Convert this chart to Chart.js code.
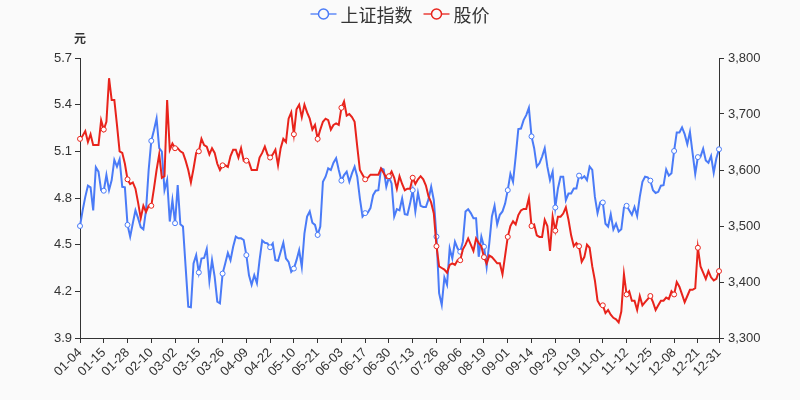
<!DOCTYPE html>
<html>
<head>
<meta charset="utf-8">
<script src="https://cdn.jsdelivr.net/npm/chart.js@4"></script>
<style>
  html, body { margin: 0; padding: 0; background: #fafafa; }
  #wrap { width: 800px; height: 400px; }
</style>
</head>
<body>
<div id="wrap"><canvas id="chart"></canvas></div>
<script>
// 2021 market holidays falling on weekdays (Shanghai exchange)
const holidays = ['01-01', '02-11', '02-12', '02-15', '02-16', '02-17', '04-05',
  '05-03', '05-04', '05-05', '06-14', '09-20', '09-21',
  '10-01', '10-04', '10-05', '10-06', '10-07'];

const shownLabels = ['01-04', '01-15', '01-28', '02-10', '03-02', '03-15', '03-26',
  '04-09', '04-22', '05-10', '05-21', '06-03', '06-17', '06-30', '07-13', '07-26',
  '08-06', '08-19', '09-01', '09-14', '09-29', '10-19', '11-01', '11-12', '11-25',
  '12-08', '12-21', '12-31'];

const leftTicks = [3.9, 4.2, 4.5, 4.8, 5.1, 5.4, 5.7];
const rightTicks = [3300, 3400, 3500, 3600, 3700, 3800];

// 股价 (元)
const priceValues = [
  5.18, 5.20, 5.23, 5.16, 5.21, 5.14, 5.14, 5.14, 5.30, 5.24,
  5.29, 5.57, 5.43, 5.43, 5.27, 5.10, 5.09, 5.02, 4.92, 4.89,
  4.90, 4.86, 4.77, 4.67, 4.75, 4.71, 4.75, 4.75, 4.86, 4.98,
  5.08, 4.93, 4.94, 5.43, 5.11, 5.15, 5.12, 5.12, 5.10, 5.09,
  5.04, 4.98, 4.90, 4.99, 5.09, 5.10, 5.18, 5.14, 5.13, 5.08,
  5.12, 5.09, 5.02, 4.98, 5.01, 5.01, 5.00, 5.07, 5.11, 5.11,
  5.06, 5.12, 5.04, 5.04, 5.03, 4.98, 4.98, 4.98, 5.06, 5.09,
  5.13, 5.08, 5.06, 5.08, 5.11, 5.01, 5.12, 5.18, 5.16, 5.31,
  5.35, 5.21, 5.37, 5.40, 5.32, 5.40, 5.35, 5.31, 5.24, 5.27,
  5.18, 5.24, 5.29, 5.31, 5.30, 5.24, 5.27, 5.28, 5.27, 5.38,
  5.42, 5.33, 5.34, 5.32, 5.29, 5.13, 4.98, 4.95, 4.92, 4.93,
  4.95, 4.95, 4.95, 4.95, 4.99, 4.96, 4.93, 4.94, 4.97, 4.93,
  4.86, 4.94, 4.89, 4.85, 4.86, 4.86, 4.93, 4.89, 4.92, 4.94,
  4.92, 4.88, 4.81, 4.77, 4.70, 4.49, 4.36, 4.35, 4.34, 4.32,
  4.37, 4.38, 4.37, 4.40, 4.40, 4.47, 4.50, 4.54, 4.50, 4.46,
  4.54, 4.51, 4.49, 4.42, 4.38, 4.43, 4.42, 4.40, 4.38, 4.38,
  4.31, 4.43, 4.55, 4.62, 4.65, 4.63, 4.69, 4.72, 4.73, 4.73,
  4.80, 4.62, 4.63, 4.56, 4.55, 4.55, 4.66, 4.62, 4.46, 4.68,
  4.59, 4.68, 4.68, 4.70, 4.74, 4.66, 4.56, 4.49, 4.51, 4.49,
  4.39, 4.42, 4.50, 4.48, 4.36, 4.27, 4.14, 4.11, 4.11, 4.06,
  4.08, 4.05, 4.03, 4.02, 4.00, 4.07, 4.31, 4.18, 4.20, 4.14,
  4.14, 4.08, 4.17, 4.11, 4.13, 4.15, 4.17, 4.13, 4.08, 4.11,
  4.14, 4.14, 4.16, 4.15, 4.20, 4.18, 4.26, 4.23, 4.18, 4.13,
  4.17, 4.21, 4.21, 4.22, 4.48, 4.36, 4.32, 4.28, 4.33, 4.29,
  4.27, 4.28, 4.33
];

// 上证指数
const indexValues = [
  3500, 3528, 3552, 3572, 3569, 3528, 3605, 3597, 3564, 3563,
  3591, 3564, 3582, 3618, 3606, 3619, 3570, 3569, 3502, 3481,
  3505, 3528, 3514, 3498, 3494, 3528, 3600, 3652, 3671, 3692,
  3639, 3633, 3564, 3582, 3508, 3546, 3505, 3573, 3503, 3499,
  3427, 3356, 3355, 3433, 3448, 3417, 3442, 3443, 3459, 3402,
  3439, 3409, 3365, 3362, 3415, 3433, 3452, 3439, 3463, 3481,
  3478, 3478, 3475, 3448, 3412, 3395, 3412, 3398, 3439, 3474,
  3470, 3469, 3462, 3469, 3439, 3438, 3454, 3470, 3442, 3436,
  3418, 3424, 3439, 3457, 3427, 3487, 3517, 3526, 3506, 3502,
  3484, 3499, 3579, 3588, 3603, 3600, 3613, 3621, 3600, 3581,
  3591, 3597, 3579, 3594, 3606, 3588, 3549, 3517, 3523, 3524,
  3532, 3555, 3563, 3564, 3603, 3601, 3570, 3587, 3576, 3517,
  3530, 3528, 3549, 3521, 3520, 3540, 3564, 3526, 3559, 3536,
  3534, 3534, 3548, 3570, 3546, 3481, 3380, 3359, 3408, 3395,
  3460, 3442, 3472, 3460, 3454, 3472, 3526, 3530, 3523, 3514,
  3514, 3445, 3481, 3463, 3427, 3469, 3517, 3536, 3503, 3520,
  3526, 3540, 3564, 3593, 3579, 3624, 3673, 3674, 3689, 3698,
  3711, 3660, 3639, 3606, 3612, 3624, 3639, 3606, 3582, 3597,
  3533, 3567, 3588, 3588, 3546, 3558, 3558, 3567, 3567, 3590,
  3585, 3589, 3582, 3606, 3600, 3552, 3523, 3542, 3542, 3504,
  3499, 3521, 3494, 3504, 3490, 3494, 3533, 3536, 3528, 3520,
  3534, 3518, 3552, 3579, 3588, 3587, 3581, 3564, 3559, 3561,
  3572, 3573, 3601, 3590, 3594, 3634, 3667, 3667, 3676, 3664,
  3646, 3668, 3630, 3593, 3623, 3624, 3638, 3617, 3613, 3625,
  3595, 3621, 3637
];

const BLUE = '#4a7bf7';
const RED = '#e8231b';
const TEXT = '#333';

function tradingDays() {
  const out = [];
  const d = new Date(2021, 0, 1);
  while (d.getFullYear() === 2021) {
    const md = String(d.getMonth() + 1).padStart(2, '0') + '-' + String(d.getDate()).padStart(2, '0');
    const wd = d.getDay();
    if (wd !== 0 && wd !== 6 && !holidays.includes(md)) out.push(md);
    d.setDate(d.getDate() + 1);
  }
  return out;
}

const dates = tradingDays();
const shown = new Set(shownLabels);
const isShown = i => shown.has(dates[i]);

const legendItems = [{ text: '上证指数', color: BLUE }, { text: '股价', color: RED }];

// legend drawn ECharts-style: line with a hollow circle
const topLegend = {
  id: 'topLegend',
  afterDraw(chart) {
    const ctx = chart.ctx;
    ctx.save();
    ctx.font = '18px "Noto Sans CJK SC", sans-serif';
    const iconW = 26, gapIcon = 4, gapItem = 11, y = 14;
    const widths = legendItems.map(it => ctx.measureText(it.text).width);
    const total = widths.reduce((a, w) => a + iconW + gapIcon + w, 0) + gapItem * (legendItems.length - 1);
    let x = chart.width / 2 - total / 2;
    legendItems.forEach((it, i) => {
      ctx.strokeStyle = it.color;
      ctx.globalAlpha = 0.65;
      ctx.lineWidth = 2;
      ctx.beginPath(); ctx.moveTo(x, y); ctx.lineTo(x + iconW, y); ctx.stroke();
      ctx.globalAlpha = 1;
      ctx.beginPath(); ctx.arc(x + iconW / 2, y, 5, 0, Math.PI * 2);
      ctx.fillStyle = '#fafafa'; ctx.fill();
      ctx.lineWidth = 1.5; ctx.stroke();
      ctx.fillStyle = TEXT;
      ctx.textBaseline = 'middle';
      ctx.textAlign = 'left';
      ctx.fillText(it.text, x + iconW + gapIcon, y + 1);
      x += iconW + gapIcon + widths[i] + gapItem;
    });
    // unit label above the left axis
    ctx.font = 'bold 12px "Noto Sans CJK SC", sans-serif';
    ctx.textAlign = 'center';
    ctx.fillText('元', chart.chartArea.left, 38);
    ctx.restore();
  }
};

const pointR = ctx => isShown(ctx.dataIndex) ? 2.5 : 0;
const tickFont = { family: 'Liberation Sans, Arial, sans-serif', size: 13 };

new Chart(document.getElementById('chart'), {
  type: 'line',
  data: {
    labels: dates,
    datasets: [{
      label: '上证指数',
      data: indexValues,
      yAxisID: 'y1',
      borderColor: BLUE,
      borderWidth: 2,
      pointRadius: pointR,
      pointBackgroundColor: '#fff',
      pointBorderColor: BLUE,
      pointBorderWidth: 1,
      tension: 0,
      order: 1
    }, {
      label: '股价',
      data: priceValues,
      yAxisID: 'y',
      borderColor: RED,
      borderWidth: 2,
      pointRadius: pointR,
      pointBackgroundColor: '#fff',
      pointBorderColor: RED,
      pointBorderWidth: 1,
      tension: 0,
      order: 0
    }]
  },
  options: {
    responsive: true,
    maintainAspectRatio: false,
    animation: false,
    layout: { padding: { top: 58, left: 0, right: 0, bottom: 0 } },
    plugins: { legend: { display: false }, tooltip: { enabled: false } },
    scales: {
      x: {
        type: 'category',
        offset: false,
        afterFit: s => { s.height = 62; },
        border: { color: TEXT },
        grid: {
          drawOnChartArea: false,
          drawTicks: true,
          tickLength: 5,
          color: ctx => isShown(ctx.index) ? TEXT : 'rgba(0,0,0,0)'
        },
        ticks: {
          autoSkip: false,
          maxRotation: 45,
          minRotation: 45,
          padding: 2,
          color: TEXT,
          font: tickFont,
          callback: (v, i) => isShown(i) ? dates[i] : ''
        }
      },
      y: {
        position: 'left',
        min: 3.9,
        max: 5.7,
        afterFit: s => { s.width = 80; },
        afterBuildTicks: s => { s.ticks = leftTicks.map(v => ({ value: v })); },
        border: { color: TEXT },
        grid: { drawOnChartArea: false, tickLength: 5, color: TEXT },
        ticks: { color: TEXT, font: tickFont, padding: 3, callback: v => v.toFixed(1) }
      },
      y1: {
        position: 'right',
        min: 3300,
        max: 3800,
        afterFit: s => { s.width = 81; },
        afterBuildTicks: s => { s.ticks = rightTicks.map(v => ({ value: v })); },
        border: { color: TEXT },
        grid: { drawOnChartArea: false, tickLength: 5, color: TEXT },
        ticks: { color: TEXT, font: tickFont, padding: 4, callback: v => v.toLocaleString('en-US') }
      }
    }
  },
  plugins: [topLegend]
});
</script>
</body>
</html>
